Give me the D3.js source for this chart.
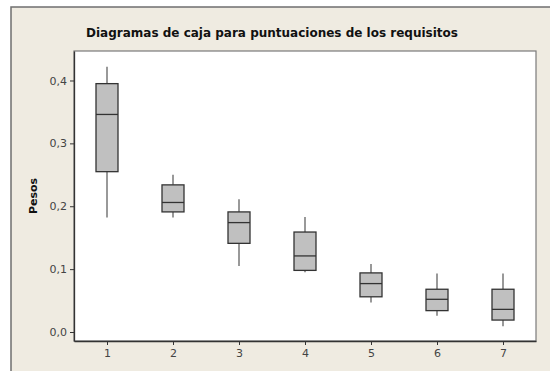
<!DOCTYPE html>
<html><head><meta charset="utf-8">
<script src="https://cdn.jsdelivr.net/npm/d3@7"></script>
<style>body{margin:0;background:#fff}svg{display:block}</style>
</head><body>
<script>
const categories = ["1","2","3","4","5","6","7"];
const whiskerLow  = [0.182, 0.182, 0.105, 0.095, 0.047, 0.026, 0.009];
const q1          = [0.255, 0.191, 0.141, 0.098, 0.056, 0.034, 0.019];
const median      = [0.346, 0.206, 0.174, 0.121, 0.077, 0.052, 0.036];
const q3          = [0.395, 0.234, 0.191, 0.159, 0.094, 0.068, 0.068];
const whiskerHigh = [0.422, 0.250, 0.211, 0.183, 0.108, 0.093, 0.093];
const yTicks = [0, 0.1, 0.2, 0.3, 0.4];
const title = "Diagramas de caja para puntuaciones de los requisitos";
const yLabel = "Pesos";

const W = 550, H = 371;
const svg = d3.select("body").append("svg").attr("width", W).attr("height", H);
svg.append("rect").attr("x", 11).attr("y", 7).attr("width", W).attr("height", H)
  .attr("fill", "#efebe1").attr("stroke", "#6f6f6f").attr("stroke-width", 1.5);

const m = {l: 74, t: 51, r: 536, b: 341};
const x = d3.scaleLinear().domain([0.5, 7.5]).range([m.l, m.r]);
const y = d3.scaleLinear().domain([-0.0143, 0.4469]).range([m.b, m.t]);

svg.append("rect").attr("x", m.l).attr("y", m.t).attr("width", m.r - m.l).attr("height", m.b - m.t)
  .attr("fill", "#fff").attr("stroke", "#7a7a7a").attr("stroke-width", 1.2);

const font = "'DejaVu Sans', Verdana, sans-serif";
svg.append("text").attr("x", 272).attr("y", 37).attr("text-anchor", "middle")
  .attr("font-family", font).attr("font-weight", "bold").attr("font-size", 12)
  .attr("fill", "#111").text(title);

const yAxis = d3.axisLeft(y).tickValues(yTicks).tickSize(4).tickSizeOuter(0).tickPadding(3)
  .tickFormat(d => d3.format(".1f")(d).replace(".", ","));
const gy = svg.append("g").attr("transform", `translate(${m.l},0)`).call(yAxis);
const xAxis = d3.axisBottom(x).tickValues(categories.map(Number)).tickSize(4).tickSizeOuter(0).tickPadding(4)
  .tickFormat(d => categories[d - 1]);
const gx = svg.append("g").attr("transform", `translate(0,${m.b})`).call(xAxis);
[gy, gx].forEach(g => {
  g.select(".domain").attr("stroke", "#333").attr("stroke-width", 1.3);
  g.selectAll(".tick line").attr("stroke", "#333");
  g.selectAll(".tick text").attr("font-family", font).attr("font-size", 11).attr("fill", "#444");
});

svg.append("text").attr("transform", `translate(37,196) rotate(-90)`).attr("text-anchor", "middle")
  .attr("font-family", font).attr("font-weight", "bold").attr("font-size", 11).attr("fill", "#111")
  .text(yLabel);

const bw = 22;
const boxes = svg.append("g").selectAll("g").data(categories).join("g");
boxes.append("line")
  .attr("x1", (d,i) => x(i + 1)).attr("x2", (d,i) => x(i + 1))
  .attr("y1", (d,i) => y(whiskerHigh[i])).attr("y2", (d,i) => y(q3[i]))
  .attr("stroke", "#555").attr("stroke-width", 1.2);
boxes.append("line")
  .attr("x1", (d,i) => x(i + 1)).attr("x2", (d,i) => x(i + 1))
  .attr("y1", (d,i) => y(q1[i])).attr("y2", (d,i) => y(whiskerLow[i]))
  .attr("stroke", "#555").attr("stroke-width", 1.2);
boxes.append("rect")
  .attr("x", (d,i) => x(i + 1) - bw / 2).attr("width", bw)
  .attr("y", (d,i) => y(q3[i])).attr("height", (d,i) => y(q1[i]) - y(q3[i]))
  .attr("fill", "#c0c0c0").attr("stroke", "#333").attr("stroke-width", 1.3);
boxes.append("line")
  .attr("x1", (d,i) => x(i + 1) - bw / 2).attr("x2", (d,i) => x(i + 1) + bw / 2)
  .attr("y1", (d,i) => y(median[i])).attr("y2", (d,i) => y(median[i]))
  .attr("stroke", "#333").attr("stroke-width", 1.3);
</script>
</body></html>
